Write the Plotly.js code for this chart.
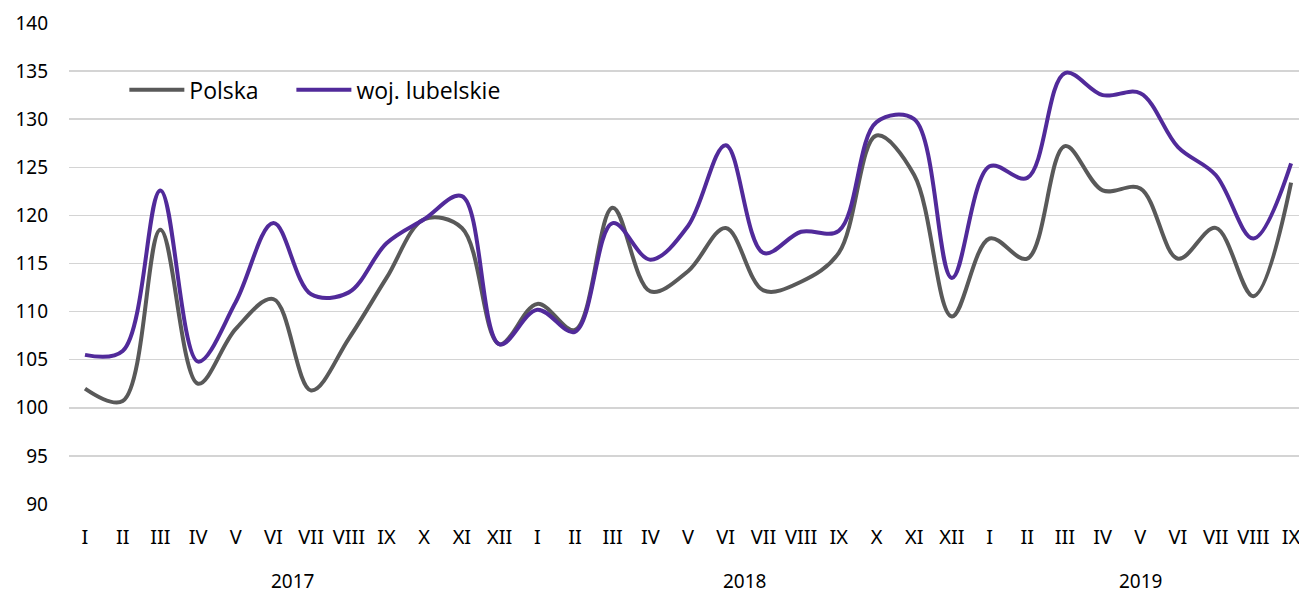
<!DOCTYPE html>
<html>
<head>
<meta charset="utf-8">
<script src="https://cdn.plot.ly/plotly-3.0.1.min.js"></script>
<style>html,body{margin:0;padding:0;background:#fff;}#chart{width:1299px;height:593px;}</style>
</head>
<body>
<div id="chart"></div>
<script>
const months = ["I","II","III","IV","V","VI","VII","VIII","IX","X","XI","XII",
                "I","II","III","IV","V","VI","VII","VIII","IX","X","XI","XII",
                "I","II","III","IV","V","VI","VII","VIII","IX"];
const years = ["2017","2018","2019"];
const polska = [102, 100.7, 118.5, 102.5, 108.2, 111.3, 101.8, 107.2, 113.5, 119.6, 118.7, 106.6,
                110.8, 108.1, 120.8, 112.1, 114.2, 118.7, 112.2, 113.1, 116.1, 128.3, 124.2, 109.5,
                117.6, 115.5, 127.2, 122.6, 122.8, 115.5, 118.7, 111.6, 123.4];
const lubelskie = [105.5, 105.9, 122.6, 104.8, 111.0, 119.2, 111.8, 112.0, 117.1, 119.6, 122.0, 106.6,
                   110.2, 107.9, 119.2, 115.4, 118.9, 127.3, 116.1, 118.3, 118.4, 129.7, 130.0, 113.5,
                   125.1, 123.9, 134.8, 132.5, 132.7, 127.1, 124.2, 117.6, 125.4];

const idx = months.map((m, i) => i);
// first & last month index of each year group
const yearGroups = [[0, 11], [12, 23], [24, 32]];

const font = "Noto Sans, Open Sans, sans-serif";
const legendFont = {family: "Open Sans, Noto Sans, sans-serif", size: 23, color: "#000"};

const traces = [
  {x: idx, y: polska, name: "Polska", type: "scatter", mode: "lines", legend: "legend",
   line: {color: "#595959", width: 4, shape: "spline", smoothing: 1}},
  {x: idx, y: lubelskie, name: "woj. lubelskie", type: "scatter", mode: "lines", legend: "legend2",
   line: {color: "#512A9A", width: 4, shape: "spline", smoothing: 1}}
];

const annotations = yearGroups.map((g, k) => ({
  x: (g[0] + g[1]) / 2, xref: "x", y: -0.16, yref: "paper",
  text: years[k], showarrow: false, yanchor: "middle",
  font: {family: font, size: 19, color: "#000"}
}));

const layout = {
  width: 1299, height: 593,
  margin: {l: 69, r: 0, t: 23, b: 89},
  paper_bgcolor: "#fff", plot_bgcolor: "#fff",
  showlegend: true,
  legend: {orientation: "h", x: 0.045, y: 0.861, xanchor: "left", yanchor: "middle",
           bgcolor: "rgba(0,0,0,0)", itemwidth: 55, font: legendFont},
  legend2: {orientation: "h", x: 0.1808, y: 0.861, xanchor: "left", yanchor: "middle",
           bgcolor: "rgba(0,0,0,0)", itemwidth: 55, font: legendFont},
  xaxis: {range: [-0.4245, 32.21], tickmode: "array", tickvals: idx, ticktext: months,
          showgrid: false, zeroline: false, showline: false, ticks: "",
          ticklabelstandoff: 19, ticklabeloverflow: "allow",
          tickfont: {family: font, size: 20, color: "#000"}, fixedrange: true},
  yaxis: {range: [90, 140], dtick: 5, tick0: 90, showgrid: true, gridcolor: "#d4d4d4", gridwidth: 1.5,
          zeroline: false, showline: false, ticks: "", ticklabelstandoff: 20,
          tickfont: {family: font, size: 19, color: "#000"}, fixedrange: true},
  annotations: annotations
};

Plotly.newPlot("chart", traces, layout, {staticPlot: true, displayModeBar: false});
</script>
</body>
</html>
